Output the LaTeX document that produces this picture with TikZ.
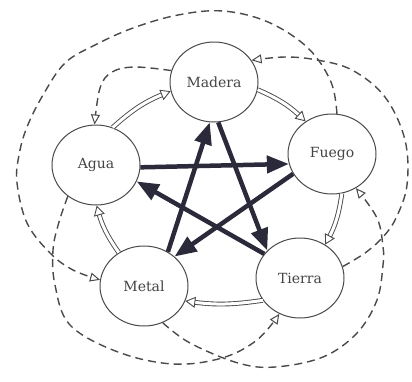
\documentclass[tikz,border=0pt]{standalone}
\usepackage{fontspec}
\setmainfont{DejaVu Serif}
\usetikzlibrary{arrows.meta,shapes.geometric,decorations.markings}
\definecolor{ink}{HTML}{2B2A3A}
\definecolor{pen}{HTML}{4A4A4A}
\definecolor{txt}{HTML}{444444}
\begin{document}
\begin{tikzpicture}[x=1pt,y=-1pt,
  elem/.style={ellipse, draw=pen, line width=1pt, fill=white, minimum width=88pt, minimum height=80pt, inner sep=0pt, text=txt, font=\fontsize{14}{16}\selectfont},
  ctrl/.style={draw=ink, line width=4.5pt, -{Triangle[length=22pt,width=17pt]}},
  dashedarc/.style={draw=pen, line width=1.4pt, dash pattern=on 8pt off 5pt, -{Triangle[open,length=10pt,width=9pt,fill=white,line width=1pt]}},
  genline/.style={draw=pen, line width=0.9pt, double=white, double distance=3pt, shorten >=9pt},
  genhead/.style={postaction={decorate}, decoration={markings, mark=at position 1 with {\arrow{Triangle[open,length=10pt,width=11pt,color=pen,fill=white,line width=0.9pt]}}}}
]
\useasboundingbox (0,0) rectangle (412,381);
\fill[white] (0,0) rectangle (412,381);

\node[elem] (madera) at (214,82) {Madera};
\node[elem] (agua) at (96,165) {Agua};
\node[elem] (fuego) at (332,154) {Fuego};
\node[elem] (metal) at (144,286) {Metal};
\node[elem] (tierra) at (300,278) {Tierra};

% dashed arcs
\draw[dashedarc] plot[smooth, tension=0.6] coordinates {(fuego.83) (331,82) (308,48) (268,22) (223,11) (178,15) (133,28) (95,45) (65,63) (43,95) (27,127) (19,155) (17,183) (27,223) (50,253) (73,270) (metal.172)};
\draw[dashedarc] plot[smooth, tension=0.6] coordinates {(tierra.15) (365,253) (383,237) (396,218) (407,185) (405,140) (385,97) (352,70) (317,60) (285,57) (madera.30)};
\draw[dashedarc] plot[smooth, tension=0.6] coordinates {(madera.165) (135,67) (112,72) (100,88) (agua.92)};
\draw[dashedarc] plot[smooth, tension=0.6] coordinates {(agua.228) (59,222) (53,250) (55,285) (70,325) (118,352) (173,364) (222,358) (257,340) (tierra.240)};
\draw[dashedarc] plot[smooth, tension=0.6] coordinates {(metal.-63) (190,343) (238,363) (275,367) (323,357) (357,333) (377,300) (383,265) (383,247) (377,218) (fuego.-55)};

% generating arrows (double)
\draw[genline] (agua.66) to[bend left=10] (madera.192);
\path[genhead] (agua.66) to[bend left=10] (madera.192);
\draw[genline] (madera.-10) to[bend left=10] (fuego.129);
\path[genhead] (madera.-10) to[bend left=10] (fuego.129);
\draw[genline] (fuego.-76) to[bend left=10] (tierra.53);
\path[genhead] (fuego.-76) to[bend left=10] (tierra.53);
\draw[genline] (tierra.211) to[bend left=8] (metal.-20);
\path[genhead] (tierra.211) to[bend left=8] (metal.-20);
\draw[genline] (metal.127) to[bend left=10] (agua.-89);
\path[genhead] (metal.127) to[bend left=10] (agua.-89);

% controlling star
\draw[ctrl] (agua.-3) -- (fuego.193);
\draw[ctrl] (fuego.207) -- (metal.44);
\draw[ctrl] (metal.55) -- (madera.-96);
\draw[ctrl] (madera.-84) -- (tierra.140);
\draw[ctrl] (tierra.146) -- (agua.-22);
\end{tikzpicture}
\end{document}
